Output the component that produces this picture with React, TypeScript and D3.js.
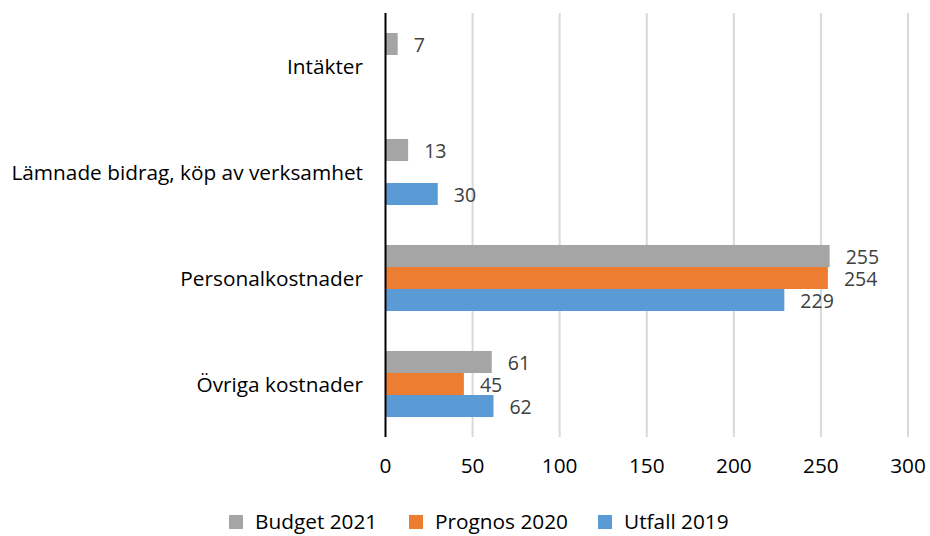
import React from "react";
import * as d3 from "d3";

const categories = ["Intäkter", "Lämnade bidrag, köp av verksamhet", "Personalkostnader", "Övriga kostnader"];
const seriesNames = ["Budget 2021", "Prognos 2020", "Utfall 2019"];
const budget2021: (number | null)[] = [7, 13, 255, 61];
const prognos2020: (number | null)[] = [null, null, 254, 45];
const utfall2019: (number | null)[] = [null, 30, 229, 62];
const xTicks = [0, 50, 100, 150, 200, 250, 300];
const colors = ["#A5A5A5", "#ED7D31", "#5B9BD5"];

const W = 930, H = 536;
const FONT = "'Open Sans', Lato, sans-serif";

export default function App() {
  const seriesValues = [budget2021, prognos2020, utfall2019];
  const x = d3.scaleLinear().domain([0, 300]).range([385.5, 908]);
  const y = d3.scaleBand<string>().domain(categories).range([13, 437]).paddingInner(0).paddingOuter(0);
  const groupH = y.bandwidth() * 0.623;
  const inner = d3.scaleBand<string>().domain(seriesNames).range([0, groupH]);
  const legendX = [229, 409, 598];

  return (
    <svg width={W} height={H} style={{ position: "absolute", left: 0, top: 0, background: "#fff" }} fontFamily={FONT}>
      {xTicks.slice(1).map((t) => (
        <line key={t} x1={x(t)} x2={x(t)} y1={13} y2={437} stroke="#D9D9D9" strokeWidth={2} />
      ))}
      {seriesValues.map((vals, si) =>
        vals.map((v, ci) => {
          if (v == null) return null;
          const cy = (y(categories[ci]) as number) + (y.bandwidth() - groupH) / 2 + (inner(seriesNames[si]) as number);
          const h = inner.bandwidth();
          return (
            <g key={`${si}-${ci}`}>
              <rect x={x(0)} y={cy} width={x(v) - x(0)} height={h} fill={colors[si]} />
              <text x={x(v) + 16} y={cy + h / 2 + 1} dy="0.35em" fontSize={19.5} fill="#404040">{v}</text>
            </g>
          );
        })
      )}
      <line x1={x(0)} x2={x(0)} y1={13} y2={437} stroke="#000" strokeWidth={2} />
      {categories.map((c) => (
        <text key={c} x={363} y={(y(c) as number) + y.bandwidth() / 2 + 1} dy="0.35em" textAnchor="end" fontSize={20.8} fill="#000">{c}</text>
      ))}
      {xTicks.map((t) => (
        <text key={t} x={x(t)} y={466} dy="0.35em" textAnchor="middle" fontSize={20.8} fill="#000">{t}</text>
      ))}
      {seriesNames.map((s, i) => (
        <g key={s}>
          <rect x={legendX[i]} y={515} width={14} height={14} fill={colors[i]} />
          <text x={legendX[i] + 26} y={522} dy="0.35em" fontSize={20.8} fill="#000">{s}</text>
        </g>
      ))}
    </svg>
  );
}
